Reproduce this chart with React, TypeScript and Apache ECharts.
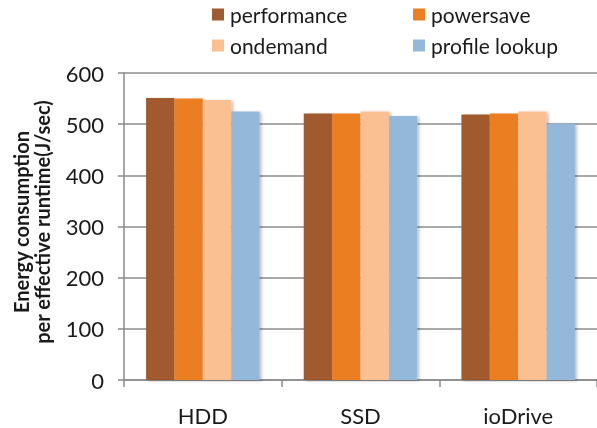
import React, { useEffect, useRef } from "react";
import * as echarts from "echarts";

const categories = ["HDD", "SSD", "ioDrive"];
const seriesNames = ["performance", "powersave", "ondemand", "profile lookup"];
const performance = [551, 521, 519];
const powersave = [550, 521, 521];
const ondemand = [547, 525, 525];
const profileLookup = [525, 516, 501];
const colors = ["#A05A2F", "#EC7E24", "#FAC092", "#94B8DA"];
const yTicks = { min: 0, max: 600, interval: 100 };

const FONT = "Lato, 'Open Sans', sans-serif";

export default function App() {
  const ref = useRef<HTMLDivElement>(null);

  useEffect(() => {
    if (!ref.current) return;
    const chart = echarts.init(ref.current, undefined, { renderer: "svg" });
    const values = [performance, powersave, ondemand, profileLookup];

    // one legend per entry so the 2x2 layout is exact
    const legendPos = [
      { left: 212, top: 4 },
      { left: 413, top: 4 },
      { left: 212, top: 35 },
      { left: 413, top: 35 },
    ];

    chart.setOption({
      animation: false,
      color: colors,
      textStyle: { fontFamily: FONT },
      legend: seriesNames.map((name, i) => ({
        data: [name],
        ...legendPos[i],
        padding: 0,
        icon: "rect",
        itemWidth: 12,
        itemHeight: 12,
        itemGap: 0,
        selectedMode: false,
        textStyle: {
          fontFamily: FONT,
          fontSize: 21,
          color: "#1a1a1a",
          lineHeight: 20,
          padding: [0, 0, 0, 1],
        },
      })),
      grid: { left: 124, top: 73, width: 476, height: 307 },
      xAxis: {
        type: "category",
        data: categories,
        axisLine: { lineStyle: { color: "#8a8a8a", width: 1.5 } },
        axisTick: { show: true, length: 7, lineStyle: { color: "#8a8a8a", width: 1.5 } },
        axisLabel: { fontFamily: FONT, fontSize: 22, color: "#1a1a1a", margin: 24 },
      },
      yAxis: {
        type: "value",
        min: yTicks.min,
        max: yTicks.max,
        interval: yTicks.interval,
        axisLine: { show: true, lineStyle: { color: "#8a8a8a", width: 1.5 } },
        axisTick: { show: true, length: 6, lineStyle: { color: "#8a8a8a", width: 1.5 } },
        axisLabel: { fontFamily: FONT, fontSize: 22, color: "#1a1a1a", margin: 20 },
        splitLine: { show: true, lineStyle: { color: "#8c8c8c", width: 1.5 } },
      },
      series: seriesNames.map((name, i) => ({
        name,
        type: "bar",
        data: values[i],
        barGap: "0%",
        barCategoryGap: "28%",
        itemStyle: {
          color: colors[i],
          shadowColor: "rgba(0,0,0,0.25)",
          shadowBlur: 3,
          shadowOffsetX: 2,
          shadowOffsetY: 1,
        },
      })),
      graphic: [
        {
          type: "text",
          x: 31,
          y: 222,
          rotation: Math.PI / 2,
          style: {
            text: "Energy consumption\nper effective runtime(J/sec)",
            fontFamily: FONT,
            fontWeight: "bold",
            fontSize: 20,
            lineHeight: 21,
            fill: "#1a1a1a",
            align: "center",
            verticalAlign: "middle",
          },
        },
      ],
    });

    return () => chart.dispose();
  }, []);

  return (
    <div
      ref={ref}
      style={{ position: "fixed", left: 0, top: 0, width: 597, height: 428 }}
    />
  );
}
